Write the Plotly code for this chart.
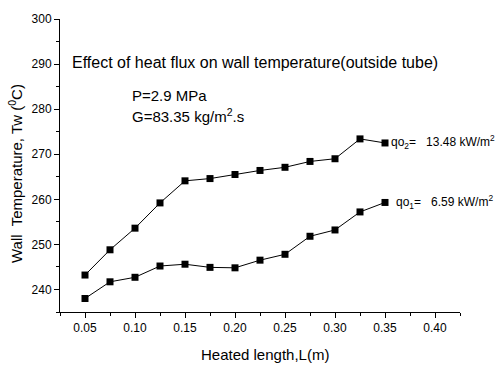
import plotly.graph_objects as go

L = [0.05, 0.075, 0.10, 0.125, 0.15, 0.175, 0.20, 0.225, 0.25, 0.275, 0.30, 0.325, 0.35]
tw_qo2 = [243.2, 248.8, 253.6, 259.2, 264.1, 264.6, 265.5, 266.4, 267.1, 268.4, 269.0, 273.4, 272.5]
tw_qo1 = [238.0, 241.7, 242.7, 245.2, 245.6, 244.9, 244.8, 246.5, 247.8, 251.8, 253.2, 257.2, 259.3]
x_ticks = [0.05, 0.10, 0.15, 0.20, 0.25, 0.30, 0.35, 0.40]
y_ticks = [240, 250, 260, 270, 280, 290, 300]

FONT = "Liberation Sans, Arial, sans-serif"

fig = go.Figure()
for ys in (tw_qo2, tw_qo1):
    fig.add_trace(go.Scatter(x=L, y=ys, mode="lines+markers",
                             line=dict(color="black", width=1),
                             marker=dict(symbol="square", size=7, color="black"),
                             showlegend=False, cliponaxis=False))

ann = [
    dict(x=0.0345, y=290.3, text="Effect of heat flux on wall temperature(outside tube)", size=16),
    dict(x=0.0945, y=283.1, text="P=2.9 MPa", size=15),
    dict(x=0.0945, y=278.5, text="G=83.35 kg/m<sup>2</sup>.s", size=15),
    dict(x=0.3535, y=272.7, text="qo<sub>2</sub>=&nbsp;&nbsp;&nbsp;13.48 kW/m<sup>2</sup>", size=12),
    dict(x=0.3585, y=259.4, text="qo<sub>1</sub>=&nbsp;&nbsp;&nbsp;6.59 kW/m<sup>2</sup>", size=12),
]
for a in ann:
    fig.add_annotation(x=a["x"], y=a["y"], xref="x", yref="y", text=a["text"],
                       showarrow=False, xanchor="left", yanchor="middle",
                       font=dict(family=FONT, size=a["size"], color="black"))

# axis titles placed as annotations for exact positioning
fig.add_annotation(x=0.513, y=-0.145, xref="paper", yref="paper", text="Heated length,L(m)",
                   showarrow=False, xanchor="center", yanchor="middle",
                   font=dict(family=FONT, size=15, color="black"))
fig.add_annotation(x=-0.111, y=0.473, xref="paper", yref="paper",
                   text="Wall  Temperature, Tw (<sup>0</sup>C)", textangle=-90,
                   showarrow=False, xanchor="center", yanchor="middle",
                   font=dict(family=FONT, size=15, color="black"))

fig.update_layout(
    width=498, height=365,
    margin=dict(l=59.5, r=38, t=16, b=53),
    paper_bgcolor="white", plot_bgcolor="white",
    font=dict(family=FONT, color="black"),
    xaxis=dict(range=[0.025, 0.425], tickvals=x_ticks, ticktext=[f"{v:.2f}" for v in x_ticks],
               showline=True, linecolor="black", linewidth=1, ticks="outside", ticklen=5,
               tickcolor="black", showgrid=False, zeroline=False, tickfont=dict(size=12),
               minor=dict(dtick=0.025, tick0=0.025, ticks="outside", ticklen=3, tickcolor="black")),
    yaxis=dict(range=[235, 300], tickvals=y_ticks,
               showline=True, linecolor="black", linewidth=1, ticks="outside", ticklen=5,
               tickcolor="black", showgrid=False, zeroline=False, tickfont=dict(size=12),
               minor=dict(dtick=5, tick0=235, ticks="outside", ticklen=3, tickcolor="black")),
)

fig.write_html("out.html")
